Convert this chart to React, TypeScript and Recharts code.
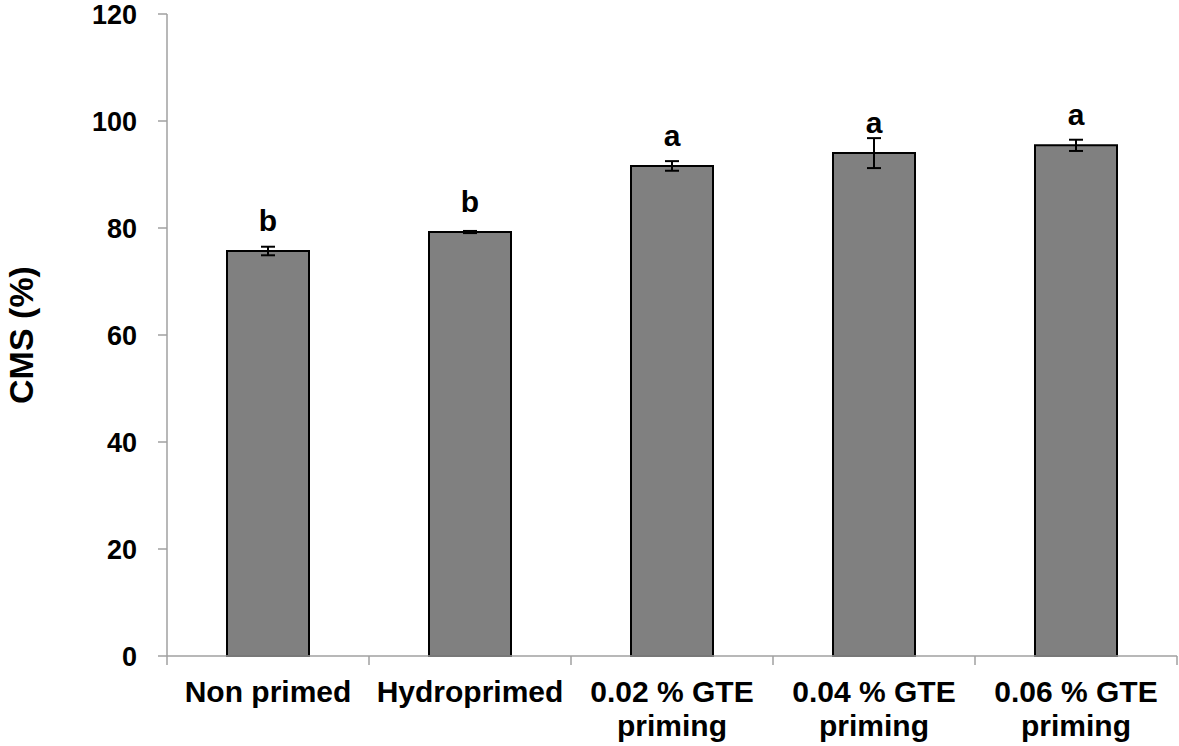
import { Bar, BarChart, ErrorBar, LabelList, XAxis, YAxis } from "recharts";

const categories = [
  ["Non primed"],
  ["Hydroprimed"],
  ["0.02 % GTE", "priming"],
  ["0.04 % GTE", "priming"],
  ["0.06 % GTE", "priming"],
];
const cmsValues = [75.7, 79.25, 91.6, 94.0, 95.45];
const cmsErrors = [0.8, 0.2, 0.9, 2.8, 1.05];
const letters = ["b", "b", "a", "a", "a"];
const yTicks = [0, 20, 40, 60, 80, 100, 120];

const FONT = "Arial, 'Liberation Sans', sans-serif";
const AXIS = "#a0a0a0";
const W = 1179;
const H = 746;
const PLOT_LEFT = 167;
const PLOT_RIGHT = 2;
const BAND = (W - PLOT_LEFT - PLOT_RIGHT) / categories.length;

const data = categories.map((c, i) => ({
  name: c.join(" "),
  lines: c,
  cms: cmsValues[i],
  err: cmsErrors[i],
  letter: letters[i],
}));

/** 2 行ラベル + 区切り目盛り */
function CategoryTick(props: any) {
  const { x, y, payload, index } = props;
  const lines = data[index]?.lines ?? [payload.value];
  const left = x - BAND / 2;
  const right = x + BAND / 2;
  return (
    <g>
      <line x1={left} y1={y} x2={left} y2={y + 9} stroke={AXIS} strokeWidth={1.5} />
      {index === data.length - 1 && (
        <line x1={right} y1={y} x2={right} y2={y + 9} stroke={AXIS} strokeWidth={1.5} />
      )}
      {lines.map((l: string, i: number) => (
        <text
          key={i}
          x={x}
          y={y + 46 + i * 34}
          textAnchor="middle"
          fontFamily={FONT}
          fontWeight="bold"
          fontSize={30}
          fill="#000"
        >
          {l}
        </text>
      ))}
    </g>
  );
}

export default function App() {
  return (
    <div style={{ position: "absolute", left: 0, top: 0, width: W, height: H, background: "#fff" }}>
      <BarChart
        width={W}
        height={H}
        data={data}
        margin={{ top: 14, right: PLOT_RIGHT, left: 0, bottom: 0 }}
      >
        <XAxis
          dataKey="name"
          height={90}
          axisLine={{ stroke: AXIS, strokeWidth: 1.5 }}
          tickLine={false}
          tickSize={0}
          tickMargin={0}
          interval={0}
          tick={<CategoryTick />}
        />
        <YAxis
          width={PLOT_LEFT}
          domain={[0, 120]}
          ticks={yTicks}
          interval={0}
          axisLine={{ stroke: AXIS, strokeWidth: 1.5 }}
          tickLine={{ stroke: AXIS, strokeWidth: 1.5 }}
          tickSize={9}
          tickMargin={21}
          tick={{ fontFamily: FONT, fontWeight: "bold", fontSize: 27, fill: "#000" }}
          label={{
            value: "CMS (%)",
            angle: -90,
            position: "insideLeft",
            offset: 21,
            style: {
              textAnchor: "middle",
              fontFamily: FONT,
              fontWeight: "bold",
              fontSize: 34,
              fill: "#000",
            },
          }}
        />
        <Bar
          dataKey="cms"
          fill="#808080"
          stroke="#000"
          strokeWidth={2}
          barSize={82}
          isAnimationActive={false}
        >
          <ErrorBar dataKey="err" width={7} stroke="#000" strokeWidth={2} isAnimationActive={false} />
          <LabelList
            dataKey="letter"
            position="top"
            offset={20}
            fontFamily={FONT}
            fontWeight="bold"
            fontSize={30}
            fill="#000"
          />
        </Bar>
      </BarChart>
    </div>
  );
}
